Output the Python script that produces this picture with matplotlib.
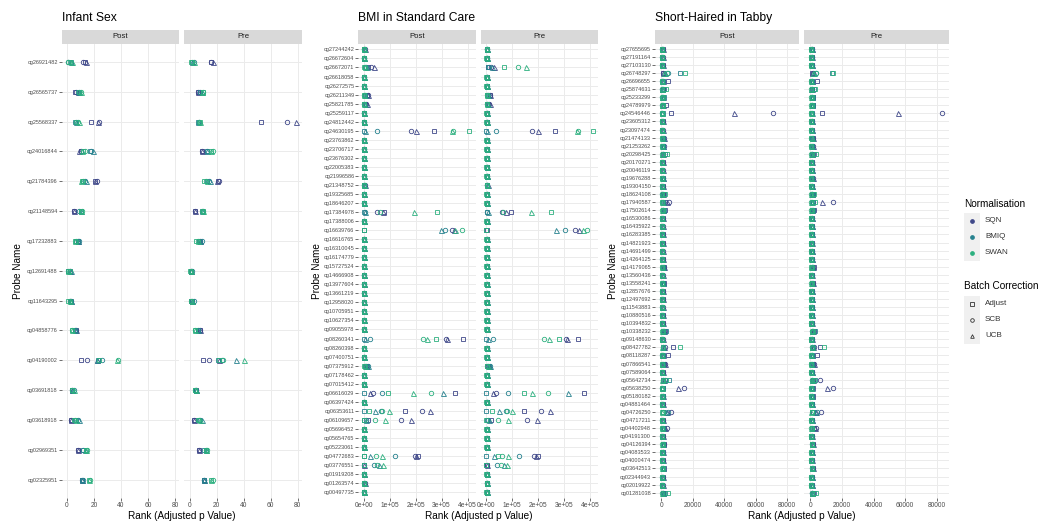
import matplotlib
matplotlib.use("Agg")
import matplotlib.pyplot as plt
from matplotlib.patches import Rectangle

plt.rcParams['font.family'] = ['Liberation Sans', 'DejaVu Sans']

NORMS = ['SQN', 'BMIQ', 'SWAN']
NORM_COLOURS = ['#3F4889', '#26818E', '#2CB07F']
BATCHES = ['Adjust', 'SCB', 'UCB']
BATCH_MARKERS = ['s', 'o', '^']

# every row: SQN (Adjust, SCB, UCB), BMIQ (Adjust, SCB, UCB), SWAN (Adjust, SCB, UCB)

INFANT_PROBES = ['cg26921482', 'cg26565737', 'cg25568337', 'cg24016844', 'cg21784396',
                 'cg21148594', 'cg17232883', 'cg12691488', 'cg11643295', 'cg04858776',
                 'cg04190002', 'cg03691818', 'cg03618918', 'cg02969351', 'cg02325951']
INFANT_POST = [
    [13, 12, 14, 3, 1, 3, 2, 1, 4],
    [6, 7, 8, 8, 9, 9, 9, 10, 10],
    [18, 24, 23, 6, 7, 7, 7, 8, 9],
    [10, 10, 9, 17, 18, 19, 12, 13, 11],
    [21, 22, 21, 12, 13, 14, 11, 12, 10],
    [5, 5, 5, 10, 9, 10, 10, 11, 10],
    [7, 8, 8, 8, 9, 8, 6, 7, 6],
    [1, 2, 2, 2, 1, 3, 1, 2, 1],
    [2, 3, 3, 3, 2, 3, 1, 2, 2],
    [7, 7, 7, 6, 6, 6, 4, 4, 4],
    [10, 15, 22, 23, 26, 22, 24, 38, 37],
    [4, 4, 4, 4, 5, 4, 4, 4, 5],
    [3, 3, 3, 7, 8, 9, 5, 6, 7],
    [8, 8, 8, 12, 12, 13, 14, 15, 14],
    [11, 11, 11, 11, 12, 11, 16, 17, 16],
]
INFANT_PRE = [
    [16, 16, 17, 2, 3, 2, 1, 2, 3],
    [6, 6, 6, 8, 8, 9, 10, 10, 9],
    [53, 72, 79, 6, 7, 6, 8, 7, 8],
    [9, 9, 9, 13, 13, 13, 16, 17, 16],
    [21, 22, 20, 13, 14, 15, 11, 12, 13],
    [4, 4, 4, 9, 10, 9, 10, 9, 10],
    [7, 8, 8, 8, 9, 8, 5, 6, 6],
    [1, 1, 1, 1, 2, 1, 0, 1, 1],
    [1, 2, 2, 2, 3, 2, 1, 1, 2],
    [8, 8, 8, 6, 6, 6, 4, 4, 4],
    [10, 14, 22, 21, 24, 34, 22, 25, 40],
    [5, 5, 5, 4, 5, 5, 4, 4, 5],
    [3, 3, 3, 7, 8, 9, 6, 7, 8],
    [7, 7, 7, 11, 12, 12, 12, 13, 12],
    [11, 11, 11, 11, 11, 11, 16, 17, 16],
]

BMI_PROBES = ['cg27244242', 'cg26672604', 'cg26672071', 'cg26618058', 'cg26272575',
              'cg26211349', 'cg25821785', 'cg25259117', 'cg24812442', 'cg24630195',
              'cg23763862', 'cg23706717', 'cg23676302', 'cg22005383', 'cg21996586',
              'cg21348752', 'cg19325685', 'cg18646207', 'cg17384978', 'cg17388006',
              'cg16639766', 'cg16616765', 'cg16310045', 'cg16174779', 'cg15727524',
              'cg14666908', 'cg13977604', 'cg13661219', 'cg12958020', 'cg10705951',
              'cg10627354', 'cg09055978', 'cg08260341', 'cg08260398', 'cg07400751',
              'cg07375912', 'cg07178462', 'cg07015412', 'cg06616029', 'cg06397424',
              'cg06353611', 'cg06109657', 'cg05696452', 'cg05654765', 'cg05223061',
              'cg04772683', 'cg03776551', 'cg01919208', 'cg01263574', 'cg00497735']
# ranks in thousands
BMI_POST_K = [
    [3, 4, 4, 2, 3, 3, 1, 2, 3],
    [1, 2, 2, 1, 1, 2, 0, 1, 1],
    [18, 27, 38, 6, 10, 12, 2, 4, 6],
    [1, 2, 2, 1, 2, 1, 0, 1, 1],
    [1, 2, 1, 1, 1, 2, 0, 1, 1],
    [14, 16, 17, 4, 5, 6, 1, 2, 2],
    [6, 10, 14, 2, 3, 5, 1, 2, 3],
    [1, 2, 2, 1, 1, 1, 0, 1, 1],
    [1, 1, 2, 1, 1, 2, 0, 1, 1],
    [270, 183, 203, 0, 51, 5, 405, 346, 340],
    [1, 2, 1, 1, 1, 1, 0, 1, 1],
    [1, 2, 2, 1, 1, 2, 0, 1, 1],
    [2, 2, 1, 1, 2, 1, 0, 1, 1],
    [1, 2, 2, 1, 1, 1, 0, 1, 2],
    [1, 1, 2, 1, 2, 1, 0, 1, 1],
    [3, 4, 5, 2, 3, 3, 1, 2, 2],
    [1, 2, 2, 1, 1, 2, 0, 1, 1],
    [1, 2, 1, 1, 1, 1, 0, 1, 1],
    [78, 52, 75, 2, 4, 6, 282, 62, 193],
    [1, 2, 2, 1, 1, 1, 0, 1, 1],
    [1, 340, 348, 0, 315, 296, 0, 378, 350],
    [1, 2, 1, 1, 1, 2, 0, 1, 1],
    [2, 1, 2, 1, 1, 1, 0, 1, 1],
    [1, 2, 2, 1, 2, 1, 0, 1, 1],
    [1, 2, 1, 1, 1, 1, 0, 1, 2],
    [2, 2, 1, 1, 1, 2, 0, 1, 1],
    [1, 2, 2, 1, 1, 1, 0, 1, 1],
    [1, 1, 2, 1, 2, 1, 0, 1, 1],
    [1, 2, 1, 1, 1, 1, 0, 1, 1],
    [2, 2, 2, 1, 1, 2, 0, 1, 1],
    [1, 2, 1, 1, 1, 1, 0, 1, 1],
    [1, 2, 2, 1, 2, 1, 0, 1, 1],
    [383, 317, 320, 0, 26, 5, 277, 230, 245],
    [1, 2, 1, 1, 1, 1, 0, 1, 1],
    [1, 2, 2, 1, 1, 2, 0, 1, 1],
    [5, 8, 10, 12, 15, 18, 2, 4, 6],
    [1, 2, 1, 1, 1, 1, 0, 1, 1],
    [1, 1, 2, 1, 2, 1, 0, 1, 1],
    [353, 36, 26, 0, 72, 305, 94, 260, 191],
    [1, 2, 2, 1, 1, 1, 0, 1, 1],
    [159, 224, 256, 0, 66, 42, 20, 72, 97],
    [15, 142, 181, 3, 8, 10, 1, 45, 83],
    [1, 2, 1, 1, 1, 2, 0, 1, 1],
    [1, 2, 2, 1, 1, 1, 0, 1, 1],
    [2, 1, 2, 1, 1, 1, 0, 1, 1],
    [209, 196, 203, 0, 122, 26, 3, 49, 69],
    [1, 2, 2, 0, 38, 59, 0, 53, 74],
    [1, 2, 1, 1, 1, 1, 0, 1, 1],
    [3, 4, 4, 2, 3, 3, 1, 2, 2],
    [2, 3, 3, 1, 2, 2, 0, 1, 1],
]
BMI_PRE_K = [
    [3, 4, 4, 2, 3, 3, 1, 2, 3],
    [1, 2, 2, 1, 1, 2, 0, 1, 1],
    [8, 18, 30, 5, 12, 20, 70, 122, 154],
    [1, 2, 2, 1, 2, 1, 0, 1, 1],
    [1, 2, 1, 1, 1, 2, 0, 1, 1],
    [13, 15, 16, 3, 5, 6, 1, 2, 2],
    [8, 12, 15, 3, 4, 6, 1, 2, 3],
    [1, 2, 2, 1, 1, 1, 0, 1, 1],
    [1, 1, 2, 1, 1, 2, 0, 1, 1],
    [265, 177, 199, 0, 38, 4, 411, 353, 349],
    [1, 2, 1, 1, 1, 1, 0, 1, 1],
    [1, 2, 2, 1, 1, 2, 0, 1, 1],
    [2, 2, 1, 1, 2, 1, 0, 1, 1],
    [1, 2, 2, 1, 1, 1, 0, 1, 2],
    [1, 1, 2, 1, 2, 1, 0, 1, 1],
    [3, 4, 5, 2, 3, 3, 1, 2, 2],
    [1, 2, 2, 1, 1, 2, 0, 1, 1],
    [1, 2, 1, 1, 1, 1, 0, 1, 1],
    [96, 60, 77, 2, 4, 6, 250, 64, 172],
    [1, 2, 2, 1, 1, 1, 0, 1, 1],
    [1, 340, 356, 0, 304, 268, 0, 388, 374],
    [1, 2, 1, 1, 1, 2, 0, 1, 1],
    [2, 1, 2, 1, 1, 1, 0, 1, 1],
    [1, 2, 2, 1, 2, 1, 0, 1, 1],
    [1, 2, 1, 1, 1, 1, 0, 1, 2],
    [2, 2, 1, 1, 1, 2, 0, 1, 1],
    [1, 2, 2, 1, 1, 1, 0, 1, 1],
    [1, 1, 2, 1, 2, 1, 0, 1, 1],
    [1, 2, 1, 1, 1, 1, 0, 1, 1],
    [2, 2, 2, 1, 1, 2, 0, 1, 1],
    [1, 2, 1, 1, 1, 1, 0, 1, 1],
    [1, 2, 2, 1, 2, 1, 0, 1, 1],
    [353, 308, 310, 0, 26, 5, 281, 224, 240],
    [1, 2, 1, 1, 1, 1, 0, 1, 1],
    [1, 2, 2, 1, 1, 2, 0, 1, 1],
    [4, 7, 9, 10, 13, 16, 2, 3, 5],
    [1, 2, 1, 1, 1, 1, 0, 1, 1],
    [1, 1, 2, 1, 2, 1, 0, 1, 1],
    [377, 38, 26, 0, 82, 313, 144, 238, 176],
    [1, 2, 2, 1, 1, 1, 0, 1, 1],
    [146, 210, 244, 0, 75, 47, 23, 78, 99],
    [19, 158, 195, 2, 6, 9, 0, 45, 85],
    [1, 2, 1, 1, 1, 2, 0, 1, 1],
    [1, 2, 2, 1, 1, 1, 0, 1, 1],
    [2, 1, 2, 1, 1, 1, 0, 1, 1],
    [199, 182, 190, 0, 127, 29, 45, 60, 83],
    [1, 2, 2, 0, 42, 67, 0, 55, 79],
    [1, 2, 1, 1, 1, 1, 0, 1, 1],
    [3, 4, 4, 2, 3, 3, 1, 2, 2],
    [2, 3, 3, 1, 2, 2, 0, 1, 1],
]

TABBY_PROBES = ['cg27655695', 'cg27191164', 'cg27103130', 'cg26748297', 'cg26696655',
                'cg25874631', 'cg25233299', 'cg24789979', 'cg24546446', 'cg23605312',
                'cg23097474', 'cg21474133', 'cg21253262', 'cg20298425', 'cg20170271',
                'cg20046119', 'cg19676288', 'cg19304150', 'cg18624108', 'cg17940587',
                'cg17502614', 'cg16530086', 'cg16435922', 'cg16283385', 'cg14821923',
                'cg14691499', 'cg14264125', 'cg14179065', 'cg13560436', 'cg13558241',
                'cg12857676', 'cg12497692', 'cg11543883', 'cg10880516', 'cg10394832',
                'cg10338232', 'cg09148630', 'cg08427782', 'cg08118287', 'cg07866541',
                'cg07589064', 'cg05642734', 'cg05638250', 'cg05180182', 'cg04881464',
                'cg04726250', 'cg04717211', 'cg04402948', 'cg04191300', 'cg04126394',
                'cg04083533', 'cg04000474', 'cg03642513', 'cg02344943', 'cg02019922',
                'cg01281038']
# ranks in hundreds
TABBY_POST_H = [
    [9, 12, 11, 6, 8, 7, 3, 5, 4],
    [8, 10, 9, 5, 7, 6, 3, 4, 5],
    [9, 11, 10, 6, 7, 8, 4, 5, 4],
    [9, 15, 12, 117, 42, 22, 155, 36, 20],
    [43, 10, 9, 12, 8, 7, 5, 4, 6],
    [12, 9, 8, 20, 7, 6, 32, 5, 4],
    [15, 10, 9, 18, 8, 7, 12, 6, 5],
    [32, 12, 10, 15, 8, 7, 9, 6, 5],
    [64, 709, 460, 12, 8, 7, 6, 5, 4],
    [9, 11, 10, 6, 8, 7, 4, 5, 4],
    [8, 10, 11, 6, 7, 8, 3, 5, 4],
    [14, 18, 16, 9, 10, 11, 5, 6, 7],
    [13, 16, 15, 9, 10, 9, 5, 6, 5],
    [15, 12, 11, 25, 9, 8, 36, 6, 5],
    [9, 10, 11, 6, 7, 6, 4, 5, 4],
    [8, 11, 10, 6, 8, 7, 3, 5, 4],
    [12, 15, 14, 8, 10, 9, 5, 6, 5],
    [9, 10, 11, 6, 7, 8, 4, 5, 4],
    [14, 11, 10, 20, 8, 7, 25, 6, 5],
    [25, 53, 36, 15, 12, 10, 8, 6, 5],
    [25, 15, 13, 18, 10, 9, 12, 6, 5],
    [9, 11, 10, 6, 8, 7, 4, 5, 4],
    [8, 10, 11, 6, 7, 8, 3, 5, 4],
    [9, 11, 10, 7, 8, 7, 4, 5, 4],
    [9, 10, 11, 6, 7, 6, 4, 5, 4],
    [8, 11, 10, 6, 8, 7, 3, 5, 4],
    [9, 10, 10, 6, 7, 8, 4, 5, 4],
    [20, 18, 16, 12, 10, 9, 6, 7, 6],
    [8, 10, 9, 6, 7, 6, 3, 4, 5],
    [18, 15, 14, 12, 10, 9, 7, 6, 5],
    [9, 11, 10, 6, 8, 7, 4, 5, 4],
    [10, 12, 11, 7, 8, 7, 4, 5, 4],
    [8, 10, 11, 6, 7, 8, 3, 5, 4],
    [9, 11, 10, 6, 8, 7, 4, 5, 4],
    [9, 10, 11, 6, 7, 6, 4, 5, 4],
    [22, 18, 16, 32, 12, 10, 15, 8, 7],
    [8, 10, 9, 6, 7, 6, 3, 4, 5],
    [74, 22, 18, 15, 12, 10, 121, 9, 7],
    [43, 12, 10, 10, 8, 7, 6, 5, 4],
    [18, 22, 25, 10, 9, 8, 6, 5, 4],
    [9, 11, 10, 6, 8, 7, 4, 5, 4],
    [15, 25, 18, 53, 15, 12, 32, 10, 8],
    [15, 143, 106, 9, 8, 7, 6, 5, 4],
    [14, 12, 11, 10, 9, 8, 6, 5, 4],
    [10, 12, 11, 7, 8, 7, 4, 5, 4],
    [15, 64, 36, 12, 42, 30, 8, 9, 6],
    [9, 11, 10, 6, 8, 7, 4, 5, 4],
    [20, 36, 28, 12, 10, 9, 7, 6, 5],
    [9, 10, 11, 6, 7, 6, 4, 5, 4],
    [18, 16, 15, 13, 12, 11, 9, 8, 7],
    [12, 11, 10, 8, 9, 7, 5, 6, 5],
    [9, 10, 11, 6, 7, 6, 4, 5, 4],
    [18, 15, 14, 13, 12, 10, 9, 8, 7],
    [9, 10, 11, 6, 7, 8, 4, 5, 4],
    [8, 11, 10, 6, 8, 7, 3, 5, 4],
    [15, 12, 11, 25, 10, 9, 47, 8, 7],
]
TABBY_PRE_H = [
    [9, 11, 11, 6, 8, 7, 3, 5, 4],
    [8, 10, 9, 5, 7, 6, 3, 4, 5],
    [9, 11, 10, 6, 7, 8, 4, 5, 4],
    [9, 14, 12, 138, 38, 20, 142, 34, 18],
    [43, 10, 9, 12, 8, 7, 5, 4, 6],
    [12, 9, 8, 22, 7, 6, 28, 5, 4],
    [15, 10, 9, 18, 8, 7, 12, 6, 5],
    [18, 12, 10, 15, 8, 7, 9, 6, 5],
    [72, 836, 557, 12, 8, 7, 6, 5, 4],
    [9, 11, 10, 6, 8, 7, 4, 5, 4],
    [8, 10, 11, 6, 7, 8, 3, 5, 4],
    [14, 18, 16, 9, 10, 11, 5, 6, 7],
    [13, 16, 15, 9, 10, 9, 5, 6, 5],
    [15, 12, 11, 25, 9, 8, 34, 6, 5],
    [9, 10, 11, 6, 7, 6, 4, 5, 4],
    [8, 11, 10, 6, 8, 7, 3, 5, 4],
    [12, 15, 14, 8, 10, 9, 5, 6, 5],
    [9, 10, 11, 6, 7, 8, 4, 5, 4],
    [14, 11, 10, 18, 8, 7, 22, 6, 5],
    [18, 140, 72, 15, 12, 10, 28, 6, 5],
    [20, 15, 13, 18, 10, 9, 12, 6, 5],
    [9, 11, 10, 6, 8, 7, 4, 5, 4],
    [8, 10, 11, 6, 7, 8, 3, 5, 4],
    [9, 11, 10, 7, 8, 7, 4, 5, 4],
    [9, 10, 11, 6, 7, 6, 4, 5, 4],
    [8, 11, 10, 6, 8, 7, 3, 5, 4],
    [9, 10, 10, 6, 7, 8, 4, 5, 4],
    [20, 18, 16, 12, 10, 9, 6, 7, 6],
    [8, 10, 9, 6, 7, 6, 3, 4, 5],
    [18, 15, 14, 12, 10, 9, 7, 6, 5],
    [9, 11, 10, 6, 8, 7, 4, 5, 4],
    [10, 12, 11, 7, 8, 7, 4, 5, 4],
    [8, 10, 11, 6, 7, 8, 3, 5, 4],
    [9, 11, 10, 6, 8, 7, 4, 5, 4],
    [9, 10, 11, 6, 7, 6, 4, 5, 4],
    [20, 18, 16, 28, 12, 10, 15, 8, 7],
    [8, 10, 9, 6, 7, 6, 3, 4, 5],
    [62, 22, 18, 15, 12, 10, 87, 9, 7],
    [40, 12, 10, 10, 8, 7, 6, 5, 4],
    [18, 22, 25, 10, 9, 8, 6, 5, 4],
    [9, 11, 10, 6, 8, 7, 4, 5, 4],
    [15, 60, 18, 28, 12, 10, 24, 9, 8],
    [14, 140, 102, 9, 8, 7, 6, 5, 4],
    [14, 12, 11, 10, 9, 8, 6, 5, 4],
    [10, 12, 11, 7, 8, 7, 4, 5, 4],
    [15, 66, 36, 12, 40, 30, 8, 9, 6],
    [9, 11, 10, 6, 8, 7, 4, 5, 4],
    [20, 34, 28, 12, 10, 9, 7, 6, 5],
    [9, 10, 11, 6, 7, 6, 4, 5, 4],
    [18, 16, 15, 13, 12, 11, 9, 8, 7],
    [12, 11, 10, 8, 9, 7, 5, 6, 5],
    [9, 10, 11, 6, 7, 6, 4, 5, 4],
    [18, 15, 14, 13, 12, 10, 9, 8, 7],
    [9, 10, 11, 6, 7, 8, 4, 5, 4],
    [8, 11, 10, 6, 8, 7, 3, 5, 4],
    [15, 12, 11, 25, 10, 9, 38, 8, 7],
]

W, H = 1052, 522
PLOT_TOP, PLOT_BOTTOM = 44, 497.5
STRIP_TOP = 29.5
GRID = '#EBEBEB'
TEXT = '#4D4D4D'


def box(left, top, right, bottom):
    return [left / W, 1 - bottom / H, (right - left) / W, (bottom - top) / H]


def draw_panel(fig, title, probes, facets, scale, xticks, xticklabels, cols, ylab_x):
    n = len(probes)
    allvals = [v * scale for rows in facets.values() for r in rows for v in r]
    lo, hi = min(allvals), max(allvals)
    pad = 0.05 * (hi - lo)

    for k, (name, rows) in enumerate(facets.items()):
        left, right = cols[k]
        ax = fig.add_axes(box(left, PLOT_TOP, right, PLOT_BOTTOM))
        for s in ax.spines.values():
            s.set_visible(False)
        ax.set_xlim(lo - pad, hi + pad)
        ax.set_ylim(n - 1 + 0.6, -0.6)
        ax.set_xticks(xticks)
        ax.set_xticklabels(xticklabels)
        ax.set_yticks(range(n))
        ax.grid(True, color=GRID, lw=0.7)
        ax.set_axisbelow(True)
        ax.tick_params(axis='x', length=2, width=0.5, color='#333333', pad=1.5,
                       labelsize=4.8, labelcolor=TEXT)
        if k == 0:
            ax.set_yticklabels(probes)
            ax.tick_params(axis='y', length=2, width=0.5, color='#333333', pad=0.8,
                           labelsize=4, labelcolor=TEXT)
        else:
            ax.set_yticklabels([])
            ax.tick_params(axis='y', length=0)

        for i, colour in enumerate(NORM_COLOURS):
            for j, marker in enumerate(BATCH_MARKERS):
                xs = [r[i * 3 + j] * scale for r in rows]
                ms = 3.6 if marker == '^' else 3.2
                ax.plot(xs, range(n), ls='none', marker=marker, ms=ms,
                        mfc='none', mec=colour, mew=0.6)

        strip = fig.add_axes(box(left, STRIP_TOP, right, PLOT_TOP))
        strip.set_facecolor('#D9D9D9')
        strip.set_xticks([])
        strip.set_yticks([])
        for s in strip.spines.values():
            s.set_visible(False)
        strip.text(0.5, 0.5, name, ha='center', va='center', fontsize=5.6,
                   color='#1A1A1A', transform=strip.transAxes)

    fig.text(cols[0][0] / W, 1 - 18 / H, title, fontsize=8.7, va='center', ha='left')
    centre = (cols[0][0] + cols[1][1]) / 2
    fig.text(centre / W, 1 - 516 / H, 'Rank (Adjusted p Value)', fontsize=7.2,
             ha='center', va='center')
    fig.text(ylab_x / W, 1 - (PLOT_TOP + PLOT_BOTTOM) / 2 / H, 'Probe Name',
             fontsize=7.2, rotation=90, ha='center', va='center')


fig = plt.figure(figsize=(W / 100, H / 100), dpi=100)

draw_panel(fig, 'Infant Sex', INFANT_PROBES,
           {'Post': INFANT_POST, 'Pre': INFANT_PRE}, 1,
           [0, 20, 40, 60, 80], ['0', '20', '40', '60', '80'],
           [(61.7, 179), (184.3, 301.7)], 18)

draw_panel(fig, 'BMI in Standard Care', BMI_PROBES,
           {'Post': BMI_POST_K, 'Pre': BMI_PRE_K}, 1000,
           [0, 100000, 200000, 300000, 400000],
           ['0e+00', '1e+05', '2e+05', '3e+05', '4e+05'],
           [(358.3, 475.7), (481, 598.3)], 317)

draw_panel(fig, 'Short-Haired in Tabby', TABBY_PROBES,
           {'Post': TABBY_POST_H, 'Pre': TABBY_PRE_H}, 100,
           [0, 20000, 40000, 60000, 80000],
           ['0', '20000', '40000', '60000', '80000'],
           [(655, 799.3), (804.3, 949)], 613)

# legends
leg = fig.add_axes([0, 0, 1, 1])
leg.set_xlim(0, W)
leg.set_ylim(H, 0)
leg.axis('off')
leg.patch.set_alpha(0)

leg.text(964, 204, 'Normalisation', fontsize=7.2, va='center', ha='left')
leg.add_patch(Rectangle((964, 213), 15.5, 48, fc='#F0F0F0', ec='none'))
for k, (name, colour) in enumerate(zip(NORMS, NORM_COLOURS)):
    y = 221 + 16 * k
    leg.plot(971.7, y, 'o', ms=2.4, color=colour)
    leg.text(985, y, name, fontsize=5.75, va='center', ha='left', color='#333333')

leg.text(964, 286, 'Batch Correction', fontsize=7.2, va='center', ha='left')
leg.add_patch(Rectangle((964, 295.5), 15.5, 48, fc='#F0F0F0', ec='none'))
for k, (name, marker) in enumerate(zip(BATCHES, BATCH_MARKERS)):
    y = 303.5 + 16 * k
    leg.plot(971.7, y, marker, ms=2.6, mfc='none', mec='#333333', mew=0.6)
    leg.text(985, y, name, fontsize=5.75, va='center', ha='left', color='#333333')

fig.savefig('out.png', dpi=100)
